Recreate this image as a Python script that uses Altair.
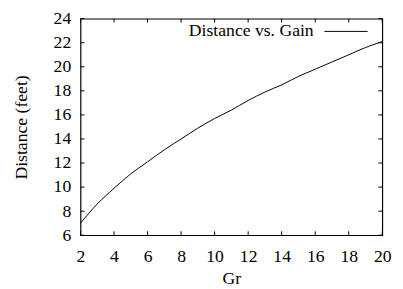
import altair as alt
import pandas as pd

# Data
gain = [2, 3, 4, 5, 6, 7, 8, 9, 10, 11, 12, 13, 14, 15, 16, 17, 18, 19, 20]
distance = [7.0, 8.6, 9.9, 11.1, 12.1, 13.1, 14.0, 14.9, 15.7, 16.4,
            17.2, 17.9, 18.5, 19.2, 19.8, 20.4, 21.0, 21.6, 22.1]
x_ticks = [2, 4, 6, 8, 10, 12, 14, 16, 18, 20]
y_ticks = [6, 8, 10, 12, 14, 16, 18, 20, 22, 24]
series_name = "Distance vs. Gain"

W, H = 308, 221
FONT = "Liberation Serif"
FS = 18

df = pd.DataFrame({"Gr": gain, "Distance": distance})
xt = pd.DataFrame({"v": x_ticks})
yt = pd.DataFrame({"v": y_ticks})

xscale = alt.Scale(domain=[2, 20], nice=False, zero=False)
yscale = alt.Scale(domain=[6, 24], nice=False, zero=False)

axis_style = dict(tickSize=0, domain=False, grid=False, labelOverlap=False,
                  format="d", labelFlush=False, labelFont=FONT, titleFont=FONT,
                  labelFontSize=FS, titleFontSize=FS)
xaxis = alt.Axis(title="Gr", values=x_ticks, labelPadding=13, titlePadding=4, **axis_style)
yaxis = alt.Axis(title="Distance (feet)", values=y_ticks, labelPadding=10, titlePadding=23,
                 **axis_style)

line = alt.Chart(df).mark_line(color="black", strokeWidth=1, interpolate="monotone").encode(
    x=alt.X("Gr:Q", scale=xscale, axis=xaxis),
    y=alt.Y("Distance:Q", scale=yscale, axis=yaxis),
)

tick_len = 4
xb = alt.Chart(xt).mark_rule(color="black", strokeWidth=1).encode(
    x=alt.X("v:Q", scale=xscale, axis=xaxis), y=alt.value(H), y2=alt.value(H - tick_len))
xtop = alt.Chart(xt).mark_rule(color="black", strokeWidth=1).encode(
    x=alt.X("v:Q", scale=xscale, axis=xaxis), y=alt.value(0), y2=alt.value(tick_len))
yl = alt.Chart(yt).mark_rule(color="black", strokeWidth=1).encode(
    y=alt.Y("v:Q", scale=yscale, axis=yaxis), x=alt.value(0), x2=alt.value(tick_len))
yr = alt.Chart(yt).mark_rule(color="black", strokeWidth=1).encode(
    y=alt.Y("v:Q", scale=yscale, axis=yaxis), x=alt.value(W), x2=alt.value(W - tick_len))

leg_df = pd.DataFrame({"name": [series_name]})
leg_text = alt.Chart(leg_df).mark_text(align="right", baseline="middle", font=FONT,
                                       fontSize=FS, color="black").encode(
    text="name:N", x=alt.value(238), y=alt.value(13))
leg_line = alt.Chart(leg_df).mark_rule(color="black", strokeWidth=1).encode(
    x=alt.value(249), x2=alt.value(293), y=alt.value(13))

chart = alt.layer(line, xb, xtop, yl, yr, leg_text, leg_line).properties(
    width=W, height=H,
    autosize=alt.AutoSizeParams(type="none"),
    padding={"left": 74, "top": 8, "right": 13, "bottom": 52},
    background="white",
).configure_view(stroke="black", strokeWidth=1.2).configure_axis(
    labelFont=FONT, titleFont=FONT, labelFontSize=FS, titleFontSize=FS,
    labelColor="black", titleColor="black", titleFontWeight="normal",
    labelFontWeight="normal",
)

chart.save("out.html", embed_options={"renderer": "svg", "actions": False})
